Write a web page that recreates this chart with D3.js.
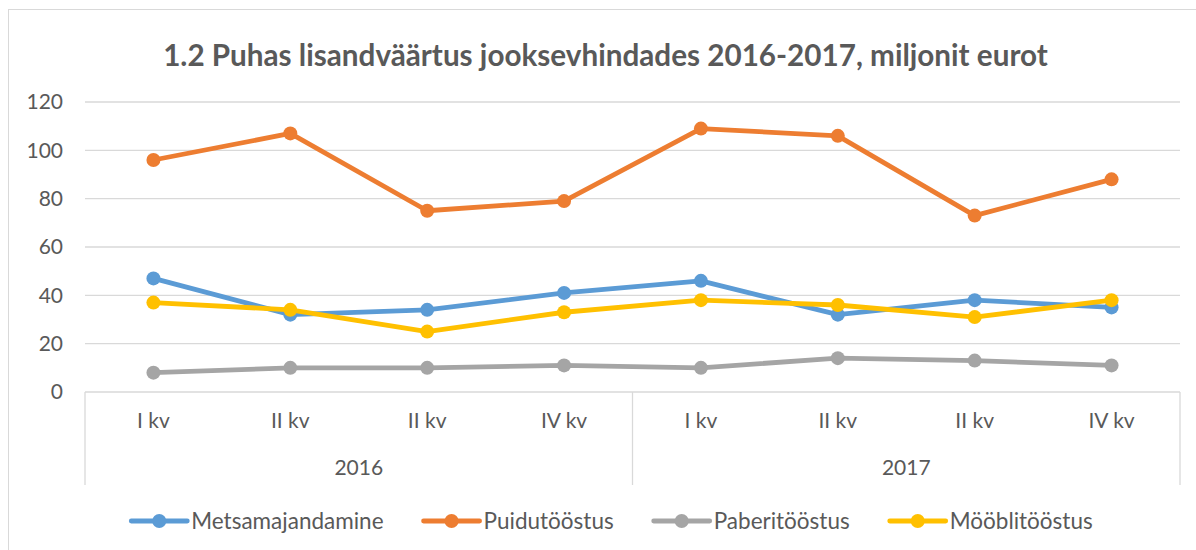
<!DOCTYPE html>
<html>
<head>
<meta charset="utf-8">
<script src="https://cdn.jsdelivr.net/npm/d3@7"></script>
<style>
  body { margin: 0; background: #fff; }
  svg { display: block; font-family: Lato, "Open Sans", sans-serif; }
</style>
</head>
<body>
<div id="chart"></div>
<script>
// Data
const quarters = ['I kv', 'II kv', 'II kv', 'IV kv', 'I kv', 'II kv', 'II kv', 'IV kv'];
const years = ['2016', '2017'];
const metsamajandamine = [47, 32, 34, 41, 46, 32, 38, 35];
const puidutoostus = [96, 107, 75, 79, 109, 106, 73, 88];
const paberitoostus = [8, 10, 10, 11, 10, 14, 13, 11];
const mooblitoostus = [37, 34, 25, 33, 38, 36, 31, 38];
const yTicks = [0, 20, 40, 60, 80, 100, 120];

const series = [
    { name: 'Metsamajandamine', values: metsamajandamine, color: '#5B9BD5' },
    { name: 'Puidutööstus', values: puidutoostus, color: '#ED7D31' },
    { name: 'Paberitööstus', values: paberitoostus, color: '#A5A5A5' },
    { name: 'Mööblitööstus', values: mooblitoostus, color: '#FFC000' }
];

const width = 1196, height = 550;
const margin = { left: 85, right: 16, top: 102, bottom: 158 };
const textColor = '#595959', gridColor = '#D9D9D9';

const svg = d3.select('#chart').append('svg')
    .attr('width', width)
    .attr('height', height);

// Chart area border (only top and left show in the frame)
svg.append('rect')
    .attr('x', 8.5).attr('y', 9.5)
    .attr('width', 1300).attr('height', 700)
    .attr('fill', 'none')
    .attr('stroke', gridColor);

// Title, fitted to the width it takes in the reference
const title = svg.append('text')
    .attr('x', 605.5)
    .attr('y', 66)
    .attr('text-anchor', 'middle')
    .attr('fill', textColor)
    .style('font-weight', 'bold')
    .style('font-size', '26px')
    .text('1.2 Puhas lisandväärtus jooksevhindades 2016-2017, miljonit eurot');
const tw = title.node().getComputedTextLength();
title.style('font-size', (26 * 885 / tw) + 'px');

const x = d3.scaleBand()
    .domain(d3.range(quarters.length))
    .range([margin.left, width - margin.right]);

const y = d3.scaleLinear()
    .domain([0, 120])
    .range([height - margin.bottom, margin.top]);

// Gridlines
svg.append('g')
    .selectAll('line')
    .data(yTicks.filter(d => d > 0))
    .join('line')
    .attr('x1', x.range()[0])
    .attr('x2', x.range()[1])
    .attr('y1', d => y(d))
    .attr('y2', d => y(d))
    .attr('stroke', gridColor)
    .attr('stroke-width', 1.3);

// Y labels
svg.append('g')
    .selectAll('text')
    .data(yTicks)
    .join('text')
    .attr('x', 63)
    .attr('y', d => y(d))
    .attr('dy', '0.35em')
    .attr('text-anchor', 'end')
    .attr('fill', textColor)
    .style('font-size', '21px')
    .text(d => d);

// Category axis line and year separators
const axisY = y(0);
svg.append('line')
    .attr('x1', x.range()[0]).attr('x2', x.range()[1])
    .attr('y1', axisY).attr('y2', axisY)
    .attr('stroke', gridColor).attr('stroke-width', 1.3);

const perYear = quarters.length / years.length;
const yearEdges = d3.range(years.length + 1).map(i =>
    i < years.length ? x(i * perYear) : x.range()[1]);
svg.append('g')
    .selectAll('line')
    .data(yearEdges)
    .join('line')
    .attr('x1', d => d).attr('x2', d => d)
    .attr('y1', axisY).attr('y2', 485)
    .attr('stroke', gridColor).attr('stroke-width', 1.3);

svg.append('g')
    .selectAll('text')
    .data(quarters)
    .join('text')
    .attr('x', (d, i) => x(i) + x.bandwidth() / 2)
    .attr('y', 421)
    .attr('dy', '0.35em')
    .attr('text-anchor', 'middle')
    .attr('fill', textColor)
    .style('font-size', '21px')
    .text(d => d);

svg.append('g')
    .selectAll('text')
    .data(years)
    .join('text')
    .attr('x', (d, i) => (yearEdges[i] + yearEdges[i + 1]) / 2)
    .attr('y', 468)
    .attr('dy', '0.35em')
    .attr('text-anchor', 'middle')
    .attr('fill', textColor)
    .style('font-size', '21px')
    .text(d => d);

// Lines and markers
const line = d3.line()
    .x((d, i) => x(i) + x.bandwidth() / 2)
    .y(d => y(d));

const seriesG = svg.append('g')
    .selectAll('g')
    .data(series)
    .join('g');

seriesG.append('path')
    .attr('d', d => line(d.values))
    .attr('fill', 'none')
    .attr('stroke', d => d.color)
    .attr('stroke-width', 4.8)
    .attr('stroke-linejoin', 'round')
    .attr('stroke-linecap', 'round');

seriesG.selectAll('circle')
    .data(d => d.values.map(v => ({ v, color: d.color })))
    .join('circle')
    .attr('cx', (d, i) => x(i) + x.bandwidth() / 2)
    .attr('cy', d => y(d.v))
    .attr('r', 7)
    .attr('fill', d => d.color);

// Legend
const legend = svg.append('g');
const legendY = 521;
const symW = 56, symGap = 4, itemGap = 40;
const items = legend.selectAll('g')
    .data(series)
    .join('g');

items.append('line')
    .attr('x1', 0).attr('x2', symW)
    .attr('y1', legendY).attr('y2', legendY)
    .attr('stroke', d => d.color)
    .attr('stroke-width', 4.8)
    .attr('stroke-linecap', 'round');
items.append('circle')
    .attr('cx', symW / 2).attr('cy', legendY)
    .attr('r', 7)
    .attr('fill', d => d.color);
items.append('text')
    .attr('x', symW + symGap)
    .attr('y', legendY)
    .attr('dy', '0.35em')
    .attr('fill', textColor)
    .style('font-size', '22.5px')
    .text(d => d.name);

let offset = 0;
const offsets = [];
items.each(function() {
    const w = d3.select(this).select('text').node().getComputedTextLength();
    offsets.push(offset);
    offset += symW + symGap + w + itemGap;
});
const total = offset - itemGap;
const startX = 612 - total / 2;
items.attr('transform', (d, i) => `translate(${startX + offsets[i]},0)`);
</script>
</body>
</html>
